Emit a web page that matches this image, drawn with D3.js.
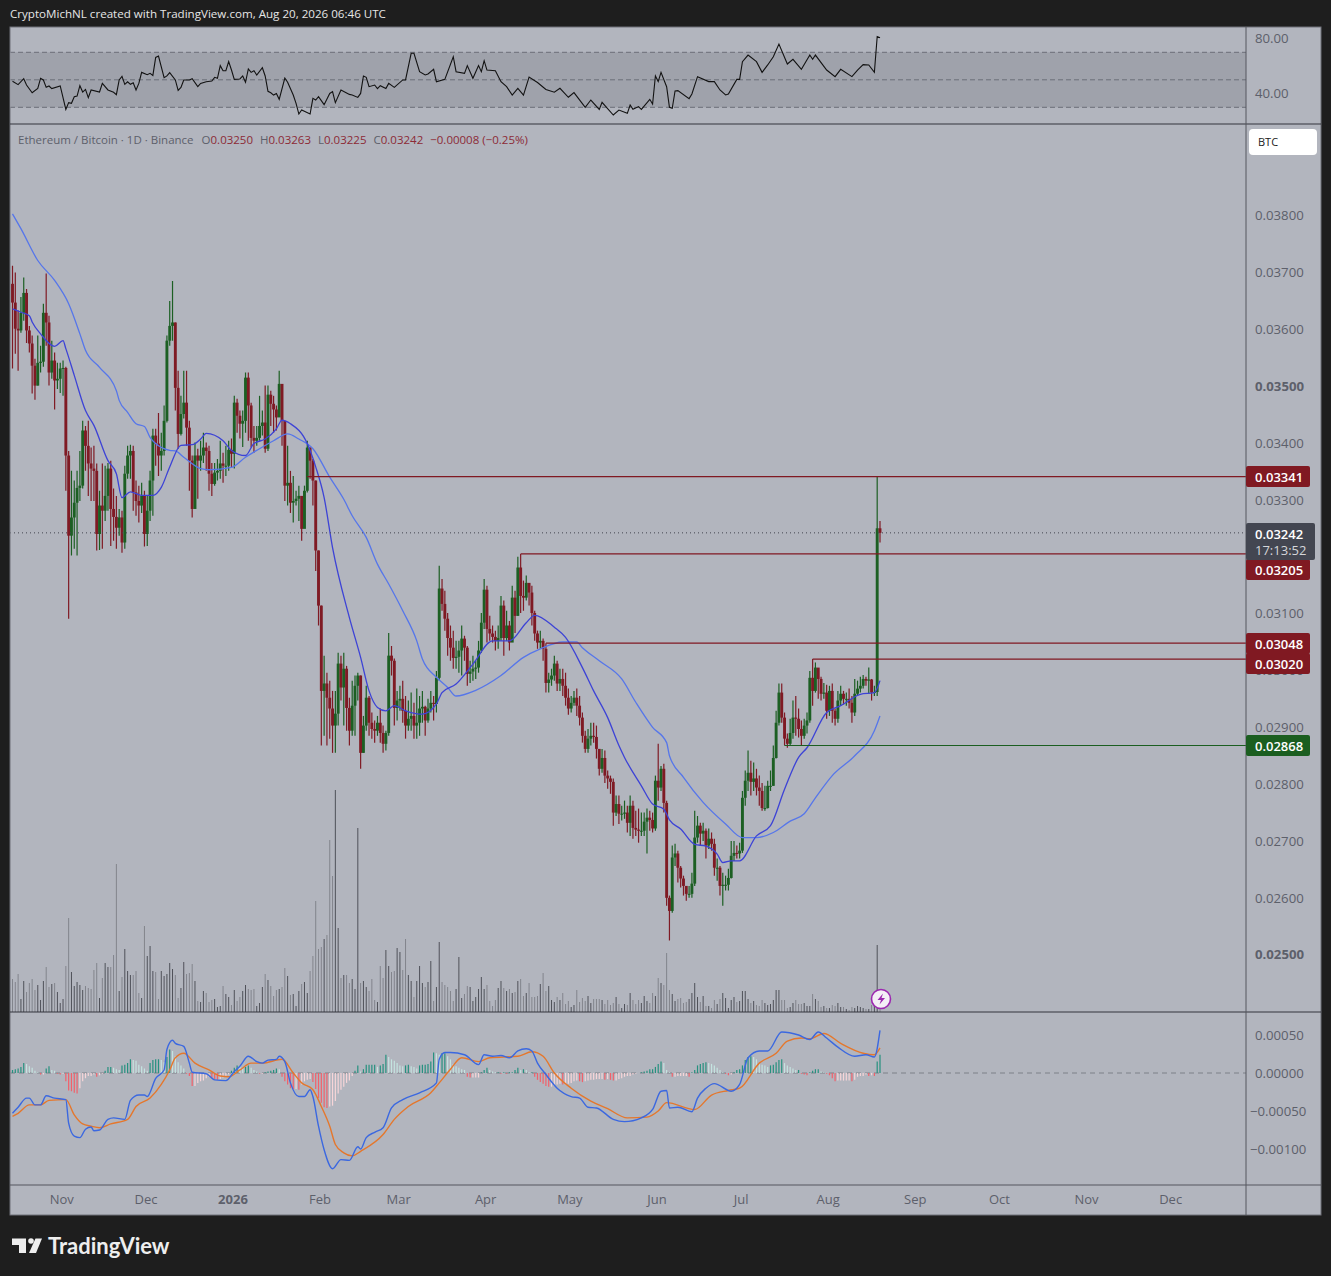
<!DOCTYPE html>
<html><head><meta charset="utf-8">
<script src="https://cdn.jsdelivr.net/npm/d3@7"></script>
<style>html,body{margin:0;padding:0;background:#1e1e1e}svg{display:block}text{font-family:"Open Sans","Noto Sans",sans-serif}</style>
</head><body><div id="c"></div>
<script>
// ETH/BTC daily bars, prices in units of 0.00001. Oldest bar first; Aug 20 2026 is the last.
const firstOpen=3680;
const closes=[3647,3601,3598,3629,3664,3598,3575,3536,3501,3541,3543,3629,3612,3524,3545,3510,3513,3531,3532,3378,3237,3269,3295,3321,3325,3422,3395,3364,3355,3351,3240,3290,3281,3307,3355,3284,3270,3251,3269,3225,3346,3378,3386,3313,3298,3290,3307,3240,3281,3334,3413,3399,3378,3386,3439,3580,3606,3612,3497,3416,3451,3471,3427,3369,3284,3378,3369,3378,3392,3386,3346,3328,3348,3351,3364,3360,3360,3388,3381,3471,3448,3434,3439,3515,3466,3409,3404,3409,3430,3436,3390,3485,3469,3459,3445,3504,3439,3325,3330,3295,3298,3302,3307,3249,3316,3392,3369,3334,3211,3114,2964,2977,2952,2933,2903,2924,3012,2970,3003,2934,2894,2938,2973,2991,2855,2903,2952,2908,2897,2894,2908,2890,2871,2890,3026,3017,2934,2947,2950,2929,2903,2915,2920,2903,2908,2933,2936,2912,2933,2943,2941,2987,3144,3117,3091,3057,3040,3022,3024,3035,3056,3040,2994,2998,3003,3005,3035,3084,3142,3073,3065,3059,3052,3057,3114,3057,3079,3049,3128,3096,3181,3131,3128,3154,3137,3101,3065,3049,3052,3038,2978,2984,2991,3012,2977,2985,2973,2952,2933,2943,2952,2938,2917,2885,2862,2880,2885,2883,2862,2827,2846,2815,2810,2804,2750,2765,2748,2748,2750,2732,2762,2723,2720,2718,2718,2734,2741,2737,2722,2806,2794,2827,2767,2600,2577,2671,2678,2653,2634,2621,2607,2607,2625,2706,2727,2713,2718,2692,2704,2695,2653,2653,2621,2623,2623,2635,2674,2679,2678,2683,2776,2806,2820,2804,2810,2794,2788,2758,2758,2797,2797,2846,2908,2961,2917,2880,2871,2890,2917,2915,2897,2885,2903,2912,2987,2964,3005,2985,2959,2961,2929,2964,2929,2915,2947,2959,2950,2950,2943,2926,2959,2968,2973,2985,2982,2984,2961,2962,3250,3242];
const highs=[3712,3700,3633,3657,3691,3671,3606,3589,3548,3589,3571,3645,3698,3624,3580,3559,3541,3541,3545,3534,3386,3351,3334,3351,3386,3439,3430,3439,3392,3395,3364,3316,3364,3360,3365,3369,3320,3307,3284,3281,3360,3395,3397,3395,3334,3325,3330,3316,3307,3351,3425,3425,3453,3418,3466,3589,3650,3685,3612,3527,3483,3527,3527,3439,3378,3401,3390,3404,3418,3401,3395,3365,3365,3372,3404,3383,3395,3404,3408,3483,3478,3457,3457,3524,3524,3471,3430,3430,3483,3457,3501,3501,3492,3483,3466,3527,3504,3439,3395,3351,3342,3316,3325,3307,3325,3404,3392,3372,3334,3211,3114,3026,2996,2982,2964,2964,3031,3026,3031,3008,2952,2982,2991,2996,2991,2920,2973,2955,2926,2912,2920,2933,2903,2894,3066,3043,3021,2964,2973,2982,2955,2947,2961,2943,2968,2955,2964,2938,2950,2964,2955,2999,3184,3161,3140,3101,3079,3070,3052,3052,3079,3061,3043,3017,3026,3017,3052,3101,3161,3149,3096,3079,3070,3079,3131,3123,3105,3087,3149,3140,3200,3205,3158,3167,3149,3149,3105,3070,3070,3056,3048,2996,3003,3026,3017,3003,3003,2996,2968,2955,2964,2968,2955,2926,2894,2897,2908,2908,2903,2862,2862,2859,2824,2815,2810,2780,2780,2762,2771,2762,2780,2771,2753,2757,2750,2750,2757,2753,2750,2815,2871,2832,2836,2771,2604,2692,2695,2683,2656,2639,2621,2621,2644,2753,2744,2732,2732,2722,2722,2715,2704,2669,2656,2644,2639,2651,2700,2700,2692,2697,2788,2824,2859,2841,2838,2827,2815,2802,2797,2806,2824,2868,2929,2977,2977,2926,2889,2915,2947,2955,2933,2912,2915,2926,2999,3020,3014,3003,2989,2978,2975,2973,2977,2933,2964,2973,2964,2961,2968,2955,2985,2982,2989,2992,2989,3005,2985,2973,3341,3263];
const lows=[3531,3557,3527,3594,3615,3576,3559,3487,3476,3501,3524,3534,3571,3501,3513,3459,3495,3488,3483,3316,3091,3202,3214,3202,3298,3320,3351,3307,3298,3298,3211,3212,3214,3263,3281,3219,3228,3214,3237,3207,3214,3337,3337,3281,3272,3260,3277,3218,3219,3263,3272,3360,3342,3351,3378,3436,3571,3580,3457,3390,3413,3443,3395,3316,3269,3302,3302,3351,3365,3351,3316,3307,3325,3334,3337,3330,3342,3351,3358,3355,3418,3408,3393,3418,3404,3392,3383,3395,3404,3413,3383,3386,3430,3418,3422,3471,3395,3298,3290,3277,3260,3290,3263,3228,3255,3313,3337,3290,3175,3079,2868,2885,2868,2880,2855,2855,2903,2947,2903,2894,2868,2885,2885,2947,2827,2855,2894,2885,2880,2873,2885,2873,2855,2859,2885,2991,2903,2912,2929,2908,2880,2894,2894,2880,2880,2885,2908,2885,2908,2926,2912,2926,2982,3105,3070,3026,3017,3003,3003,2996,2991,3017,2973,2978,2982,2985,2996,3031,3073,3049,3052,3049,3035,3038,3052,3026,3052,3035,3052,3066,3096,3101,3105,3123,3114,3079,3052,3038,3038,3017,2961,2961,2973,2982,2964,2964,2955,2938,2922,2926,2938,2920,2903,2873,2855,2855,2868,2873,2845,2815,2820,2802,2792,2783,2727,2744,2730,2736,2739,2715,2709,2704,2709,2697,2709,2709,2678,2718,2715,2718,2771,2788,2750,2586,2525,2574,2656,2627,2618,2604,2595,2600,2600,2621,2697,2692,2700,2669,2686,2683,2639,2630,2604,2586,2613,2613,2634,2665,2669,2669,2679,2762,2788,2780,2788,2780,2762,2753,2753,2757,2788,2797,2845,2903,2908,2868,2864,2868,2880,2885,2882,2868,2880,2889,2908,2938,2961,2950,2947,2950,2915,2920,2908,2903,2908,2938,2940,2938,2933,2908,2920,2955,2961,2968,2973,2959,2947,2955,2955,3225];
const volumes=[33,30,38,13,31,20,29,33,22,27,12,31,45,25,28,29,20,9,13,46,94,40,26,30,27,22,26,24,23,42,49,14,34,49,45,45,57,148,21,35,63,41,37,37,41,19,14,86,56,66,41,40,13,41,36,38,49,43,37,14,24,50,38,39,48,31,11,10,21,19,10,12,13,5,6,26,18,15,7,22,11,15,21,27,23,22,23,6,9,25,38,32,26,16,22,23,25,44,36,17,18,6,21,28,30,19,41,56,111,63,65,73,77,172,136,222,84,34,37,37,29,33,23,184,29,31,25,21,33,12,10,46,34,62,46,40,41,64,60,42,73,37,31,15,31,46,29,25,30,51,11,25,70,30,27,25,21,11,23,55,14,18,26,25,11,15,23,35,23,27,11,6,12,24,31,24,21,23,19,20,31,33,16,19,29,15,15,16,28,39,21,26,12,10,15,12,19,8,11,5,7,22,10,14,11,16,9,13,13,13,12,8,12,7,9,15,8,4,8,7,19,12,8,12,9,16,11,9,19,16,34,29,27,59,22,18,11,13,14,9,10,13,19,29,15,10,16,6,6,4,12,8,13,19,14,4,12,15,10,11,21,21,13,9,11,7,6,12,9,7,8,12,22,22,12,12,4,5,9,12,8,8,9,6,6,18,13,11,5,6,4,4,7,6,9,5,5,3,2,5,4,6,5,4,3,3,7,8,67,4];
// Moving averages (bar index, price)
const maFastIdx=[0,3,6,7,10,15,18,19,22,26,29,34,37,39,42,46,50,53,56,60,64,67,69,75,78,83,86,90,94,96,99,105,108,111,114,120,124,127,130,133,136,140,146,151,153,158,164,171,177,183,186,193,197,203,207,212,216,218,224,228,232,234,238,243,247,251,253,256,259,265,270,275,280,283,290,295,302,307,309];
const maFastVal=[3636,3630,3624,3613,3592,3570,3580,3566,3519,3457,3431,3369,3346,3304,3314,3308,3308,3322,3358,3396,3397,3407,3417,3404,3387,3378,3399,3407,3425,3440,3434,3399,3358,3304,3216,3093,3023,2964,2935,2929,2938,2929,2923,2941,2961,2976,3011,3052,3052,3084,3097,3076,3058,3005,2964,2917,2868,2847,2797,2765,2756,2737,2721,2694,2691,2677,2662,2665,2665,2709,2727,2791,2847,2864,2926,2938,2958,2961,2982];
const maSlowIdx=[0,3,9,15,20,24,26,31,37,38,41,44,47,49,51,56,58,61,67,70,78,83,87,93,98,102,107,113,118,121,126,130,134,139,144,146,151,155,158,165,174,182,188,196,201,203,209,217,222,228,233,234,239,246,254,260,265,271,277,282,286,292,300,307,309];
const maSlowVal=[3803,3777,3721,3686,3645,3592,3563,3533,3492,3475,3454,3434,3429,3410,3399,3387,3386,3375,3355,3353,3357,3375,3387,3404,3416,3407,3390,3340,3301,3272,3234,3187,3152,3105,3052,3020,2988,2970,2955,2965,2991,3023,3038,3050,3050,3040,3017,2985,2944,2900,2873,2850,2812,2768,2730,2706,2706,2715,2735,2748,2776,2815,2850,2894,2920];
// RSI (bar index, value)
const rsiIdx=[0,2,4,5,7,9,10,11,12,13,14,17,19,20,21,22,23,24,25,26,27,28,31,32,34,36,37,38,39,40,41,42,43,44,45,46,48,49,50,51,52,54,55,56,58,59,60,61,63,64,66,67,69,71,72,73,74,75,76,77,78,79,81,82,83,84,85,86,87,89,90,91,92,93,94,95,97,98,100,101,102,103,106,107,108,109,111,113,114,115,117,120,121,123,124,125,126,127,129,130,131,133,134,136,139,140,142,143,145,147,148,150,151,154,157,158,161,162,164,166,167,168,169,172,174,176,178,180,182,184,187,190,193,195,198,200,204,206,209,210,214,216,219,220,221,223,224,227,228,229,230,231,233,234,235,236,237,241,242,244,248,250,252,254,255,258,259,260,262,265,267,269,271,273,276,278,281,284,285,286,290,293,295,299,301,303,305,307,308,309];
const rsiVal=[49,46.5,50.8,46.2,40.6,43.8,51,49.9,44.5,45.5,43.6,45.5,28.5,33.4,32.9,37.7,38.2,45.7,41.1,43,37,42.6,41.1,47.4,42.6,40.9,39.2,49.9,52.5,46.7,48.6,46.7,47.9,42.6,47.4,55.4,53.7,54.7,53.2,66.3,67.3,51.5,52.8,55.2,49.9,42.3,44.5,49.9,49.9,50.8,45,47.4,48.6,49.1,51.8,51.1,60.3,56.6,56.6,63.2,57.1,50.3,50.6,52.8,48.2,57.9,55.4,56.6,53.5,58.8,52.8,41.6,40.6,38.9,40.1,35.8,51.3,48.2,38.9,32.9,25.1,28,25.1,36.5,35.3,37.7,31.9,40.1,41.4,33.4,42.6,39.4,39,37.2,40.1,52.8,51.8,45,46.2,43.6,45.7,43.6,47.4,44.5,49.9,49.9,69.3,69.3,55.9,53.5,54.2,57.6,48.6,50.3,66.8,55.9,54.7,60.3,51.1,60.3,55.9,63.9,57.1,56.6,48.6,45,38.9,43.8,38.9,52,48,43,41,43.8,37.3,40.7,30,35.3,28.5,33.6,24.4,28,25.6,31.7,28.5,30.5,28.5,35.8,32.4,52.8,48.7,55.4,45,30,29.3,41.9,42.1,36.3,39.7,52.3,48.7,48.7,42.6,39,39.7,50.3,50.3,63.2,68,63.2,55.4,60.8,66.8,76,61.5,64.9,57.6,68,64.9,68,57.1,52.3,57.6,52.3,57.1,61,60.8,55.4,81.4,80.5];
// MACD in units of 0.00001 (bar index, value)
const macdIdx=[0,2,5,6,8,10,12,15,19,20,22,24,26,28,29,31,34,36,40,42,45,47,48,51,54,55,57,58,61,63,64,69,72,76,79,81,84,87,89,91,94,95,97,99,102,104,106,107,109,111,114,117,120,123,124,126,129,132,135,139,145,151,152,154,156,161,166,168,171,174,177,180,183,185,187,190,194,199,202,205,208,214,218,224,228,231,233,234,237,242,244,247,250,256,259,262,266,269,274,280,284,287,290,294,300,304,307,309];
const macdVal=[-53,-45,-33,-33,-42,-42,-30,-33,-35,-66,-83,-85,-74,-71,-76,-75,-61,-59,-61,-36,-29,-29,-31,-7,4,31,43,39,35,13,1,-1,-9,-10,2,9,22,15,13,17,18,22,15,-13,-31,-31,-22,-31,-70,-101,-126,-114,-115,-97,-100,-85,-78,-72,-46,-35,-26,-13,18,27,27,24,11,24,22,23,20,29,32,29,13,-2,-20,-31,-33,-45,-46,-61,-64,-59,-48,-24,-23,-46,-45,-51,-33,-20,-14,-24,-15,20,29,29,54,50,44,54,46,34,22,24,21,56];
const signalIdx=[0,2,6,10,13,19,22,25,28,31,35,41,44,49,53,56,58,61,65,70,74,77,81,85,89,96,100,103,107,110,113,115,118,121,124,132,136,141,149,152,156,160,166,170,180,185,189,193,199,206,212,219,226,230,233,243,249,255,259,266,272,276,281,284,289,295,303,307,309];
const signalVal=[-57,-53,-42,-42,-36,-35,-55,-67,-70,-72,-67,-61,-44,-33,-15,4,20,26,13,4,-4,-5,4,13,13,18,0,-13,-22,-44,-70,-94,-105,-109,-103,-81,-61,-44,-26,-13,5,20,15,20,22,28,22,0,-20,-37,-47,-59,-58,-50,-39,-48,-29,-23,-20,13,26,42,46,45,52,39,26,24,33];
const histVals=[4,5,6,8,13,12,9,7,3,1,-2,-2,6,9,4,3,-1,-2,-1,-11,-23,-24,-26,-27,-20,-11,-7,-4,-4,-2,-5,-3,-1,3,8,8,7,5,4,10,11,13,18,17,16,11,9,6,3,13,17,18,18,17,14,21,31,29,22,14,10,6,-1,-4,-17,-17,-13,-11,-10,-7,-5,-7,-8,-9,-8,-6,-4,-2,3,7,10,9,7,8,10,7,4,2,-1,-1,1,2,3,4,6,5,-5,-11,-15,-20,-21,-21,-22,-15,-11,-9,-8,-12,-21,-33,-39,-45,-46,-44,-43,-37,-27,-22,-18,-13,-10,-4,3,10,2,5,11,11,11,11,8,10,12,24,21,18,16,13,10,9,10,11,9,8,6,10,11,11,12,15,27,26,24,26,26,22,18,12,9,7,5,4,-5,-6,-6,-6,-6,1,4,7,4,2,1,1,-1,1,-1,1,1,4,7,4,5,4,1,1,-5,-9,-12,-14,-17,-18,-18,-17,-15,-14,-15,-15,-14,-13,-11,-10,-11,-12,-11,-10,-9,-9,-8,-8,-8,-9,-8,-9,-10,-10,-8,-7,-5,-4,-4,-2,-1,0,1,2,3,5,5,8,12,15,13,4,1,-5,-5,-4,-4,-4,-4,-5,1,4,10,12,13,14,13,12,10,7,4,1,-1,-3,-2,1,4,5,10,17,21,22,21,18,13,11,10,8,10,11,14,17,18,13,10,8,6,4,4,-1,-2,-3,1,3,5,5,2,1,-1,-3,-7,-11,-10,-10,-10,-10,-10,-11,-9,-5,-4,-4,-2,-4,-3,-4,15,24];
// Labels
const priceTicks=[2500,2600,2700,2800,2900,3000,3100,3300,3400,3500,3600,3700,3800];
const boldPriceTicks=[2500,3500];
const rsiTicks=[80,40];
const rsiLevels=[70,50,30];
const macdTicks=[50,0,-50,-100];
const monthIdx=[17,47,78,109,137,168,198,229,259,290,321,351,382,412];
const monthNames=["Nov","Dec","2026","Feb","Mar","Apr","May","Jun","Jul","Aug","Sep","Oct","Nov","Dec"];
const levelVal=[3341,3205,3048,3020,2868];
const levelStart=[105,181,190,285,275];
const levelColor=["#801922","#801922","#801922","#801922","#1b5e20"];
const lastPrice=3242;

const W=1331,H=1276,L=10,R=1321,AX=1246,TOP=27,RSIB=124,MAINB=1012,MACDB=1185,BOT=1215;
const UP="#1c5f23",DN="#7f1a24",TXT="#5d606b";
const svg=d3.select("#c").append("svg").attr("width",W).attr("height",H).attr("viewBox",[0,0,W,H]);
svg.append("rect").attr("width",W).attr("height",H).attr("fill","#1e1e1e");
svg.append("rect").attr("x",L).attr("y",TOP).attr("width",R-L).attr("height",BOT-TOP).attr("fill","#b2b5be").attr("stroke","#6f7178");
const defs=svg.append("defs");
defs.append("clipPath").attr("id","plot").append("rect").attr("x",L+.5).attr("y",TOP).attr("width",AX-L).attr("height",BOT-TOP);

const x=d3.scaleLinear().domain([0,309]).range([12.5,880]);
const y=d3.scaleLinear().domain([2500,3800]).range([954.7,215.6]);
const yVol=d3.scaleLinear().domain([0,222]).range([MAINB,790]);
const yRsi=d3.scaleLinear().domain([30,70]).range([107.3,52.3]);
const yMacd=d3.scaleLinear().domain([-100,50]).range([1149,1035]);
const fmt=d=>(d/100000).toFixed(5);
const plot=svg.append("g").attr("clip-path","url(#plot)");

// RSI pane
plot.append("rect").attr("x",L).attr("width",AX-L).attr("y",yRsi(70)).attr("height",yRsi(30)-yRsi(70)).attr("fill","#9fa2ab");
plot.selectAll(".rl").data(rsiLevels).join("line").attr("x1",L).attr("x2",AX).attr("y1",d=>yRsi(d)).attr("y2",d=>yRsi(d)).attr("stroke","#6c6f78").attr("stroke-width",1).attr("stroke-dasharray","5 3");
const rsiSeries=rsiIdx.map((d,i)=>[d,rsiVal[i]]);
plot.append("path").attr("d",d3.line().x(d=>x(d[0])).y(d=>yRsi(d[1]))(rsiSeries)).attr("fill","none").attr("stroke","#121212").attr("stroke-width",1.1);

// Bars
const bars=closes.map((c,i)=>({i,c,h:highs[i],l:lows[i],o:i?closes[i-1]:firstOpen,v:volumes[i]}));
// Volume
plot.append("g").selectAll("line").data(bars).join("line")
 .attr("x1",d=>x(d.i)).attr("x2",d=>x(d.i)).attr("y1",MAINB).attr("y2",d=>yVol(d.v))
 .attr("stroke",d=>d.c>=d.o?"#4f5159":"#82848c").attr("stroke-width",1);
// Candles
const cg=plot.append("g");
cg.selectAll("line").data(bars).join("line").attr("x1",d=>x(d.i)).attr("x2",d=>x(d.i)).attr("y1",d=>y(d.h)).attr("y2",d=>y(d.l))
 .attr("stroke",d=>d.c>=d.o?UP:DN).attr("stroke-width",1.2);
cg.selectAll("rect").data(bars).join("rect").attr("x",d=>x(d.i)-1.45).attr("width",2.9)
 .attr("y",d=>y(Math.max(d.o,d.c))).attr("height",d=>Math.max(1,Math.abs(y(d.o)-y(d.c))))
 .attr("fill",d=>d.c>=d.o?UP:DN);
// Moving averages
const maLine=d3.line().curve(d3.curveMonotoneX).x(d=>x(d[0])).y(d=>y(d[1]));
plot.append("path").attr("d",maLine(maSlowIdx.map((d,i)=>[d,maSlowVal[i]]))).attr("fill","none").attr("stroke","#5676ea").attr("stroke-width",1.3);
plot.append("path").attr("d",maLine(maFastIdx.map((d,i)=>[d,maFastVal[i]]))).attr("fill","none").attr("stroke","#3d43d6").attr("stroke-width",1.3);
// Last price line and levels
plot.append("line").attr("x1",L).attr("x2",AX).attr("y1",y(lastPrice)).attr("y2",y(lastPrice)).attr("stroke","#44464e").attr("stroke-width",1).attr("stroke-dasharray","1 3");
plot.selectAll(".lv").data(levelVal).join("line").attr("x1",(d,i)=>x(levelStart[i])).attr("x2",AX).attr("y1",d=>y(d)).attr("y2",d=>y(d)).attr("stroke",(d,i)=>levelColor[i]).attr("stroke-width",1.2);

// MACD
plot.append("line").attr("x1",L).attr("x2",AX).attr("y1",yMacd(0)).attr("y2",yMacd(0)).attr("stroke","#7d8088").attr("stroke-dasharray","5 4");
plot.append("g").selectAll("line").data(histVals).join("line")
 .attr("x1",(d,i)=>x(i)).attr("x2",(d,i)=>x(i)).attr("y1",yMacd(0)).attr("y2",d=>yMacd(d))
 .attr("stroke",(d,i)=>{const p=i?histVals[i-1]:0;return d>=0?(d>=p?"#26917f":"#c4e4e0"):(d<p?"#f2606a":"#f7d5d8")}).attr("stroke-width",1.2);
const macdLine=d3.line().curve(d3.curveMonotoneX).x(d=>x(d[0])).y(d=>yMacd(d[1]));
plot.append("path").attr("d",macdLine(signalIdx.map((d,i)=>[d,signalVal[i]]))).attr("fill","none").attr("stroke","#e5772c").attr("stroke-width",1.4);
plot.append("path").attr("d",macdLine(macdIdx.map((d,i)=>[d,macdVal[i]]))).attr("fill","none").attr("stroke","#3b68e0").attr("stroke-width",1.4);

// Pane separators
[RSIB,MAINB].forEach(v=>svg.append("line").attr("x1",L).attr("x2",R).attr("y1",v).attr("y2",v).attr("stroke","#33353c").attr("stroke-width",1.2));
svg.append("line").attr("x1",L).attr("x2",R).attr("y1",MACDB).attr("y2",MACDB).attr("stroke","#55575f").attr("stroke-width",1.2);

// Axes
function styleAxis(g,sz){g.selectAll(".domain").remove();g.selectAll("text").attr("fill",TXT).attr("font-size",sz).attr("text-anchor","start");}
svg.append("g").attr("transform",`translate(${AX},0)`).call(d3.axisRight(y).tickValues(priceTicks).tickSize(0).tickPadding(9).tickFormat(fmt)).call(styleAxis,13.2)
 .selectAll("text").attr("font-weight",d=>boldPriceTicks.includes(d)?700:400);
svg.append("g").attr("transform",`translate(${AX},0)`).call(d3.axisRight(yRsi).tickValues(rsiTicks).tickSize(0).tickPadding(9).tickFormat(d=>d.toFixed(2))).call(styleAxis,13.2);
svg.append("g").attr("transform",`translate(${AX},0)`).call(d3.axisRight(yMacd).tickValues(macdTicks).tickSize(0).tickPadding(9).tickFormat(d=>(d<0?"\u2212":"")+(Math.abs(d)/100000).toFixed(5))).call(styleAxis,13.2)
 .selectAll("text").attr("x",d=>d<0?4:9);
svg.append("line").attr("x1",AX).attr("x2",AX).attr("y1",TOP).attr("y2",BOT).attr("stroke","#55575f");
const xa=svg.append("g").attr("transform",`translate(1,${MACDB})`).call(d3.axisBottom(x).tickValues(monthIdx).tickSize(0).tickPadding(10).tickFormat((d,i)=>monthNames[i]));
xa.selectAll(".domain").remove();
xa.selectAll("text").attr("fill",TXT).attr("font-size",13).attr("font-weight",(d,i)=>monthNames[i]==="2026"?700:400);

// Price tags
const tagData=[{v:3341,c:"#801922",ty:477,bt:466,bb:487},{v:3205,c:"#801922",ty:570,bt:559,bb:580},{v:3048,c:"#801922",ty:644,bt:633,bb:654},{v:3020,c:"#801922",ty:664,bt:653,bb:674},{v:2868,c:"#1b5e20",ty:746,bt:735,bb:756}];
const tg=svg.append("g");
tg.selectAll("rect").data(tagData).join("rect").attr("x",AX).attr("y",d=>d.bt).attr("width",64).attr("height",d=>d.bb-d.bt).attr("rx",2).attr("fill",d=>d.c);
tg.selectAll("text").data(tagData).join("text").attr("x",AX+9).attr("y",d=>d.ty).attr("dy","0.36em").attr("fill","#fff").attr("font-size",13).attr("font-weight",600).text(d=>fmt(d.v));
svg.append("rect").attr("x",AX).attr("y",523).attr("width",69).attr("height",37).attr("rx",2).attr("fill","#434651");
svg.append("text").attr("x",AX+9).attr("y",534).attr("dy","0.36em").attr("fill","#fff").attr("font-size",13).attr("font-weight",600).text(fmt(lastPrice));
svg.append("text").attr("x",AX+9).attr("y",550).attr("dy","0.36em").attr("fill","#d5d6da").attr("font-size",13).text("17:13:52");
// BTC button
svg.append("rect").attr("x",1249).attr("y",129).attr("width",68).attr("height",26).attr("rx",4).attr("fill","#fff");
svg.append("text").attr("x",1258).attr("y",142).attr("dy","0.36em").attr("fill","#222").attr("font-size",11).text("BTC");

// Header
svg.append("text").attr("x",10).attr("y",14).attr("dy","0.36em").attr("fill","#e6e6e6").attr("font-size",11.6).text("CryptoMichNL created with TradingView.com, Aug 20, 2026 06:46 UTC");
const legend=svg.append("text").attr("x",18).attr("y",140).attr("dy","0.36em").attr("font-size",11.5).attr("fill",TXT);
legend.append("tspan").text("Ethereum / Bitcoin \u00b7 1D \u00b7 Binance");
const red="#8c2a36";
[["O","0.03250",8],["H","0.03263",7],["L","0.03225",7],["C","0.03242",7]].forEach(a=>{
 legend.append("tspan").attr("dx",a[2]).text(a[0]);
 legend.append("tspan").attr("fill",red).text(a[1]);
});
legend.append("tspan").attr("dx",7).attr("fill",red).text("\u22120.00008 (\u22120.25%)");

// Alert icon
svg.append("circle").attr("cx",881).attr("cy",999).attr("r",9.5).attr("fill","#f4eef6").attr("stroke","#9c27b0").attr("stroke-width",1.6);
svg.append("path").attr("d","M883 993.5 L877.5 1000 L881 1000 L879.5 1004.5 L885 998 L881.5 998 Z").attr("fill","#9c27b0");

// Logo
const lg=svg.append("g").attr("fill","#eeeeee");
lg.append("path").attr("d","M12 1238.5h14v14.5h-7v-8h-7z");
lg.append("circle").attr("cx",31).attr("cy",1241).attr("r",2.8);
lg.append("path").attr("d","M35.5 1238.5h6.5L36 1253h-7z");
lg.append("text").attr("x",48).attr("y",1246).attr("dy","0.36em").attr("font-size",22).attr("font-weight",700).style("font-family","Lato,'Open Sans',sans-serif").text("TradingView");
</script></body></html>
